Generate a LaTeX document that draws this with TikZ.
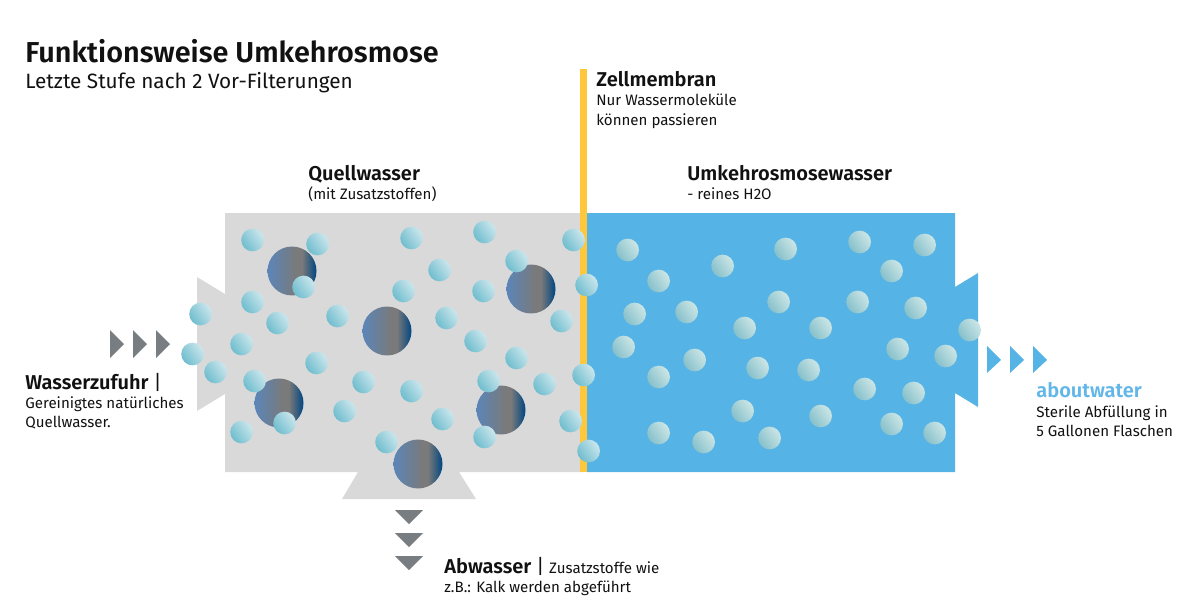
\documentclass[tikz,border=0pt]{standalone}
\usepackage{fontspec}
\setmainfont{Fira Sans}[BoldFont={Fira Sans SemiBold}]
\usepackage{xcolor}
\usetikzlibrary{positioning}

\definecolor{wallgray}{HTML}{D9D9D9}
\definecolor{waterblue}{HTML}{56B3E6}
\definecolor{membrane}{HTML}{FFC83C}
\definecolor{arrowgray}{HTML}{787D82}
\definecolor{inkdark}{HTML}{111111}
\definecolor{logoblue}{HTML}{62B7E8}
\definecolor{tealdark}{HTML}{6FBDCE}
\definecolor{teallight}{HTML}{CBE6EC}
\definecolor{paledark}{HTML}{86C0CB}
\definecolor{palelight}{HTML}{CCE6E6}

% left blue, grey band past the middle, dark blue rim
\pgfdeclarehorizontalshading{bigballshade}{100bp}{
  rgb(0bp)=(.357,.522,.722);
  rgb(25bp)=(.357,.522,.722);
  rgb(55bp)=(.478,.478,.478);
  rgb(60bp)=(.478,.478,.478);
  rgb(75bp)=(0,.275,.51);
  rgb(100bp)=(0,.275,.51)}

\tikzset{
  ballbase/.style={circle, inner sep=0pt, minimum size=0.455cm, xshift=0.012cm},
  ball/.style={ballbase, left color=tealdark, right color=teallight, shading angle=125},
  paleball/.style={ballbase, left color=paledark, right color=palelight, shading angle=125},
  bigball/.style={circle, inner sep=0pt, minimum size=0.98cm, shading=bigballshade},
  flowarrow/.style={fill=arrowgray},
  outarrow/.style={fill=waterblue},
  txt/.style={anchor=base west, inner sep=0pt, text=inkdark},
  bigtxt/.style={txt, font=\fontsize{16.4}{20}\selectfont\bfseries},
  subtxt/.style={txt, font=\fontsize{11.8}{14}\selectfont},
  headtxt/.style={txt, font=\fontsize{11.4}{14}\selectfont\bfseries},
  smalltxt/.style={txt, font=\fontsize{8.6}{10}\selectfont}
}

\begin{document}
\begin{tikzpicture}[x=0.02cm, y=-0.02cm]
    \useasboundingbox (0,0) rectangle (1189,598);

    % Source water chamber
    \fill[wallgray] (225,213) -- (584,213) -- (584,472) -- (459,472) -- (476,499) -- (342,499) -- (358,472)
        -- (225,472) -- (225,394) -- (197,411) -- (197,277) -- (225,294) -- cycle;

    % Clean water chamber
    \fill[waterblue] (587,213) -- (955,213) -- (955,287) -- (978,273) -- (978,407) -- (955,393) -- (955,472) -- (587,472) -- cycle;

    % Membrane
    \fill[membrane] (580,69) rectangle (587,472);

    % Flow arrows
    \foreach \x in {110,133,156}
        \fill[flowarrow] (\x,330) -- (\x+14,344) -- (\x,358) -- cycle;
    \foreach \y in {510,533,556}
        \fill[flowarrow] (395,\y) -- (423,\y) -- (409,\y+14) -- cycle;
    \foreach \x in {987,1010,1033}
        \fill[outarrow] (\x,346) -- (\x+14,360) -- (\x,373) -- cycle;

    % Large particles
    \foreach \x/\y [count=\i] in {292/271, 531/289, 387/331, 279/403, 501/410, 418/464}
        \node[bigball] (big\i) at (\x,\y) {};

    % Molecules in source water
    \foreach \x/\y [count=\i] in {252/240, 317/244, 411/238, 484/232, 573/240, 439/270, 516/261, 303/287, 252/302,
        200/314, 277/323, 337/316, 403/291, 483/291, 446/318, 561/321, 192/354, 241/344, 215/372, 316/363,
        475/341, 516/358, 363/382, 254/381, 411/391, 488/381, 544/384, 344/411, 442/419, 284/423, 241/432,
        386/442, 484/437, 570/421, 586/285, 583/375, 588/451}
        \node[ball] (mol\i) at (\x,\y) {};

    % Molecules in clean water
    \foreach \x/\y [count=\i] in {627/250, 658/281, 722/266, 785/249, 859/242, 924/245, 891/271, 778/302, 857/302,
        915/308, 634/314, 686/312, 744/328, 820/328, 969/330, 623/347, 694/360, 897/349, 945/356, 658/377,
        757/368, 808/370, 864/389, 913/393, 742/411, 820/416, 658/433, 703/442, 769/438, 891/424, 934/433}
        \node[paleball] (pure\i) at (\x,\y) {};

    % Heading
    \node[bigtxt] (title) at (25,63) {Funktionsweise Umkehrosmose};
    \node[subtxt] (subtitle) at (25,89) {Letzte Stufe nach 2 Vor-Filterungen};

    % Membrane label
    \node[headtxt] (zelle) at (596,87) {Zellmembran};
    \node[smalltxt] (zelleA) at (596,106) {Nur Wassermoleküle};
    \node[smalltxt] (zelleB) at (596,125) {können passieren};

    % Chamber labels
    \node[headtxt] (quelle) at (308,180) {Quellwasser};
    \node[smalltxt] (quelleA) at (308,199) {(mit Zusatzstoffen)};
    \node[headtxt] (umkehr) at (687,180) {Umkehrosmosewasser};
    \node[smalltxt] (umkehrA) at (687,199) {- reines H2O};

    % Inlet label
    \node[headtxt] (zufuhr) at (25,389) {Wasserzufuhr {\mdseries|}};
    \node[smalltxt] (zufuhrA) at (25,408) {Gereinigtes natürliches};
    \node[smalltxt] (zufuhrB) at (25,427) {Quellwasser.};

    % Waste label
    \node[headtxt] (abwasser) at (444,573) {Abwasser {\mdseries|} {\mdseries\fontsize{8.6}{10}\selectfont Zusatzstoffe wie}};
    \node[smalltxt] (abwasserA) at (444,592) {z.B.: Kalk werden abgeführt};

    % Outlet label
    \node[headtxt, text=logoblue] (about) at (1036,397) {aboutwater};
    \node[smalltxt] (aboutA) at (1036,417) {Sterile Abfüllung in};
    \node[smalltxt] (aboutB) at (1036,436) {5 Gallonen Flaschen};
\end{tikzpicture}
\end{document}
